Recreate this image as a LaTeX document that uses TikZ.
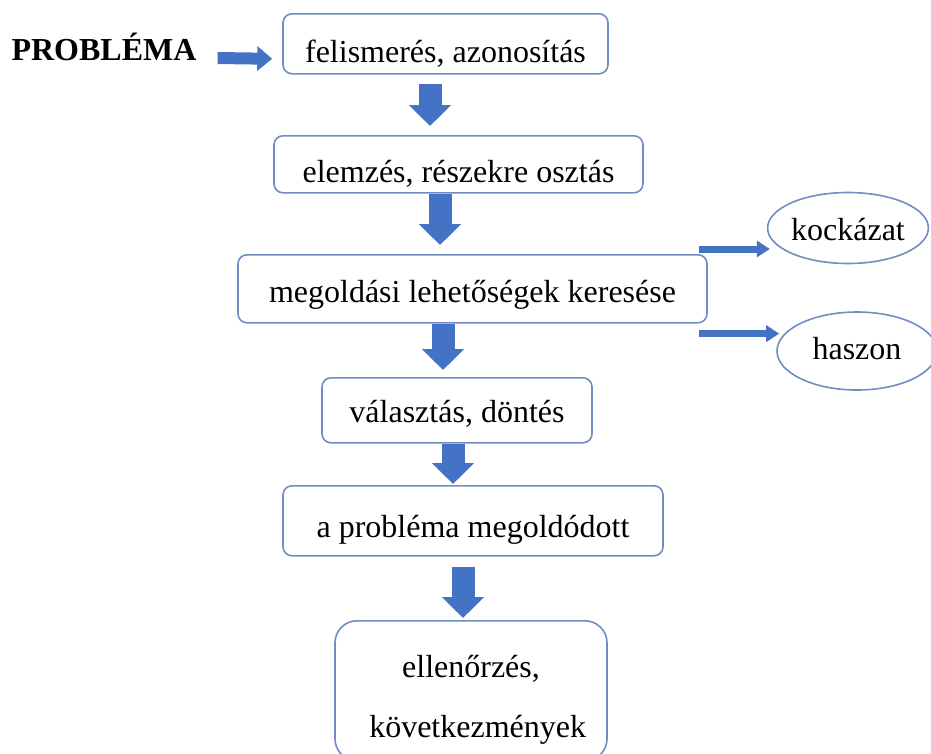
\documentclass[tikz,border=0pt]{standalone}
\usepackage{fontspec}
\setmainfont{Liberation Serif}
\usetikzlibrary{arrows.meta,shapes.geometric}
\definecolor{arrowblue}{RGB}{68,114,196}
\definecolor{boxline}{RGB}{112,140,194}
\tikzset{
  stepbox/.style={draw=boxline, line width=1.6, rounded corners=9, inner sep=0, anchor=north, fill=white},
  oval/.style={draw=boxline, line width=1.6, ellipse, inner sep=0},
  bigarrow/.style={draw=arrowblue, line width=23, -{Triangle[length=21pt,width=41pt]}},
  midarrow/.style={draw=arrowblue, line width=12, -{Triangle[length=15pt,width=24pt]}},
  smallarrow/.style={draw=arrowblue, line width=7, -{Triangle[length=13pt,width=16pt]}, shorten >=-3pt}
}
\begin{document}
\begin{tikzpicture}[x=1pt,y=-1pt,font=\fontsize{32}{60}\selectfont]
\useasboundingbox (0,0) rectangle (931,753);
% boxes
\node[stepbox, minimum width=325, text height=49, text depth=11] (felis) at (445.5,13) {felismerés, azonosítás};
\node[stepbox, minimum width=369, text height=47, text depth=10] (elem) at (458.5,135) {elemzés, részekre osztás};
\node[stepbox, minimum width=469, text height=48, text depth=20] (megold) at (472.5,254) {megoldási lehetőségek keresése};
\node[stepbox, minimum width=270, text height=45, text depth=20] (valasz) at (457,377) {választás, döntés};
\node[stepbox, minimum width=380, text height=52, text depth=18] (kesz) at (473,485) {a probléma megoldódott};
\node[stepbox, rounded corners=22, minimum width=272, text height=117, text depth=23, align=center] (ellen) at (471,620) {ellenőrzés,\\ \ \,következmények};
\node[oval, minimum width=156, minimum height=71, text height=28, text depth=4] (kock) at (848,228) {kockázat};
\node[oval, minimum width=160, minimum height=78, text height=24, text depth=8] (haszon) at (857,351) {haszon};
\node[font=\fontsize{32}{40}\selectfont\bfseries, inner sep=0, text height=20, text depth=0, anchor=base] (prob) at (104,60) {PROBLÉMA};
% arrows
\coordinate (kk) at ([xshift=-9,yshift=5]megold.north east);
\coordinate (hh) at ([xshift=-9,yshift=-10]megold.south east);
\draw[midarrow] ([xshift=21,yshift=-8]prob.east) -- ([xshift=-10,yshift=-15]felis.west);
\draw[bigarrow] ([xshift=-15.5,yshift=-9]felis.south) -- ([xshift=-28.5,yshift=9]elem.north);
\draw[bigarrow] ([xshift=-18.5]elem.south) -- ([xshift=-32.5,yshift=9]megold.north);
\draw[bigarrow] ([xshift=-29.5]megold.south) -- ([xshift=-14,yshift=7]valasz.north);
\draw[bigarrow] ([xshift=-4]valasz.south) -- ([xshift=-20,yshift=1]kesz.north);
\draw[bigarrow] ([xshift=-10,yshift=-10]kesz.south) -- ([xshift=-8,yshift=2]ellen.north);
\draw[smallarrow] (kk) -- (kk -| kock.west);
\draw[smallarrow] (hh) -- (hh -| haszon.west);
\end{tikzpicture}
\end{document}
